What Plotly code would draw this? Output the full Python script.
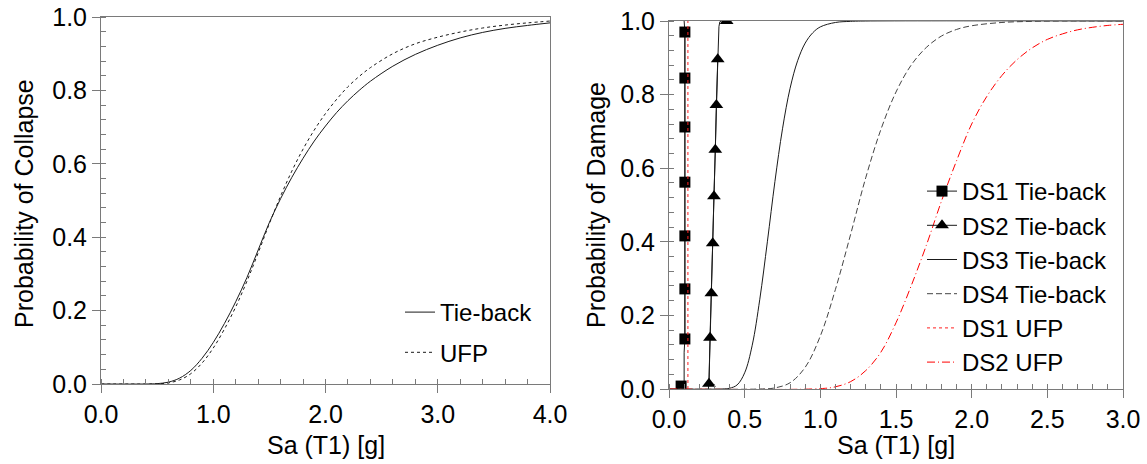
import plotly.graph_objects as go

# ---------------- data ----------------
# Left panel: collapse fragility
sa_col = [0.0, 0.4, 0.5, 0.6, 0.7, 0.8, 0.9, 1.0, 1.1, 1.2, 1.3, 1.4, 1.5, 1.6, 1.7,
          1.8, 1.9, 2.0, 2.1, 2.2, 2.3, 2.4, 2.6, 2.8, 3.0, 3.2, 3.4, 3.6, 3.8, 4.0]
p_col_tieback = [0.0, 0.0, 0.001, 0.005, 0.016, 0.037, 0.07, 0.113, 0.165, 0.224, 0.29, 0.365,
                 0.44, 0.505, 0.563, 0.615, 0.662, 0.703, 0.74, 0.772, 0.80, 0.825, 0.866,
                 0.898, 0.923, 0.943, 0.958, 0.969, 0.977, 0.984]
p_col_ufp = [0.0, 0.0, 0.0005, 0.003, 0.011, 0.028, 0.057, 0.098, 0.15, 0.21, 0.28, 0.357,
             0.437, 0.512, 0.58, 0.64, 0.692, 0.737, 0.776, 0.81, 0.838, 0.862, 0.90,
             0.927, 0.945, 0.959, 0.97, 0.978, 0.984, 0.989]

# Right panel: damage-state fragility
# DS1 Tie-back: curve and marker points
ds1_tb_line_x = [0.1, 0.1, 0.105, 0.105, 0.1]
ds1_tb_line_y = [0.0, 0.10, 0.136, 0.970, 1.0]
ds1_tb_mark_x = [0.08, None, 0.105, 0.105, 0.105, 0.105, 0.105, 0.105, 0.105]
ds1_tb_mark_y = [0.008, None, 0.136, 0.272, 0.416, 0.562, 0.712, 0.845, 0.970]

# DS2 Tie-back: curve and marker points
ds2_tb_line_x = [0.26, 0.264, 0.271, 0.28, 0.289, 0.297, 0.306, 0.313, 0.322, 0.326, 0.33,
                 0.336, 0.345, 0.381]
ds2_tb_line_y = [0.0, 0.014, 0.139, 0.26, 0.396, 0.524, 0.65, 0.772, 0.896, 0.95, 0.985,
                 0.998, 1.0, 1.0]
ds2_tb_mark_x = [0.264, 0.271, 0.28, 0.289, 0.297, 0.306, 0.313, 0.322, None, 0.381]
ds2_tb_mark_y = [0.014, 0.139, 0.26, 0.396, 0.524, 0.65, 0.772, 0.896, None, 1.0]

ds3_tb_x = [0.0, 0.35, 0.40, 0.45, 0.50, 0.55, 0.60, 0.65, 0.70, 0.75, 0.80, 0.85, 0.90,
            0.95, 1.00, 1.10, 1.20, 1.30, 3.0]
ds3_tb_y = [0.0, 0.0, 0.002, 0.011, 0.044, 0.119, 0.244, 0.40, 0.564, 0.707, 0.817, 0.892,
            0.94, 0.968, 0.984, 0.996, 0.999, 1.0, 1.0]

ds4_tb_x = [0.0, 0.60, 0.70, 0.80, 0.90, 1.00, 1.10, 1.20, 1.30, 1.40, 1.50, 1.60, 1.70,
            1.80, 1.90, 2.00, 2.20, 2.40, 2.60, 3.0]
ds4_tb_y = [0.0, 0.0, 0.003, 0.017, 0.059, 0.144, 0.271, 0.42, 0.574, 0.705, 0.807, 0.88,
            0.928, 0.959, 0.977, 0.987, 0.996, 0.999, 1.0, 1.0]

ds1_ufp_x = [0.125, 0.125]
ds1_ufp_y = [0.0, 1.0]

ds2_ufp_x = [0.0, 1.0, 1.1, 1.2, 1.3, 1.4, 1.5, 1.6, 1.7, 1.8, 1.9, 2.0, 2.1, 2.2, 2.3,
             2.4, 2.5, 2.6, 2.7, 2.8, 2.9, 3.0]
ds2_ufp_y = [0.0, 0.001, 0.006, 0.02, 0.05, 0.10, 0.18, 0.28, 0.39, 0.51, 0.62, 0.72, 0.795,
             0.852, 0.895, 0.927, 0.95, 0.965, 0.976, 0.983, 0.988, 0.991]

# ---------------- figure ----------------
W, H = 1147, 464
FONT = "Liberation Sans, Arial, sans-serif"
FS = 25
LFS = 24
AXC = "#7a7a7a"
BLK = "#1a1a1a"

fig = go.Figure()

fig.add_trace(go.Scatter(x=sa_col, y=p_col_tieback, mode="lines", name="Tie-back",
                         line=dict(color=BLK, width=1, shape="spline"),
                         xaxis="x", yaxis="y", legend="legend", legendgroup="a"))
fig.add_trace(go.Scatter(x=sa_col, y=p_col_ufp, mode="lines", name="UFP",
                         line=dict(color=BLK, width=1, dash="dot", shape="spline"),
                         xaxis="x", yaxis="y", legend="legend", legendgroup="b"))

# DS1 Tie-back
fig.add_trace(go.Scatter(x=ds1_tb_line_x, y=ds1_tb_line_y, mode="lines", showlegend=False,
                         line=dict(color=BLK, width=1), xaxis="x2", yaxis="y2"))
fig.add_trace(go.Scatter(x=ds1_tb_mark_x, y=ds1_tb_mark_y, mode="lines+markers",
                         name="DS1 Tie-back", connectgaps=False,
                         line=dict(color=BLK, width=1),
                         marker=dict(symbol="square", color="black", size=11, line=dict(width=0)),
                         xaxis="x2", yaxis="y2", legend="legend2"))
# DS2 Tie-back
fig.add_trace(go.Scatter(x=ds2_tb_line_x, y=ds2_tb_line_y, mode="lines", showlegend=False,
                         line=dict(color=BLK, width=1), xaxis="x2", yaxis="y2"))
fig.add_trace(go.Scatter(x=ds2_tb_mark_x, y=ds2_tb_mark_y, mode="lines+markers",
                         name="DS2 Tie-back", connectgaps=False,
                         line=dict(color=BLK, width=1),
                         marker=dict(symbol="triangle-up", color="black", size=12, line=dict(width=0)),
                         xaxis="x2", yaxis="y2", legend="legend2"))

fig.add_trace(go.Scatter(x=ds3_tb_x, y=ds3_tb_y, mode="lines", name="DS3 Tie-back",
                         line=dict(color=BLK, width=1, shape="spline"),
                         xaxis="x2", yaxis="y2", legend="legend2"))
fig.add_trace(go.Scatter(x=ds4_tb_x, y=ds4_tb_y, mode="lines", name="DS4 Tie-back",
                         line=dict(color="#444444", width=1, dash="6px,3px", shape="spline"),
                         xaxis="x2", yaxis="y2", legend="legend2"))
fig.add_trace(go.Scatter(x=ds1_ufp_x, y=ds1_ufp_y, mode="lines", name="DS1 UFP",
                         line=dict(color="#ff2020", width=1, dash="dot"),
                         xaxis="x2", yaxis="y2", legend="legend2"))
fig.add_trace(go.Scatter(x=ds2_ufp_x, y=ds2_ufp_y, mode="lines", name="DS2 UFP",
                         line=dict(color="#ff0000", width=1, dash="8px,3px,1px,3px", shape="spline"),
                         xaxis="x2", yaxis="y2", legend="legend2"))

def px_x(p):
    return p / W

def px_y(p):
    return (H - p) / H

axis_common = dict(showline=True, mirror=True, linecolor=AXC, linewidth=1,
                   showgrid=False, zeroline=False, ticks="outside", ticklen=8,
                   tickcolor=AXC, tickwidth=1, tickformat=".1f", automargin=False,
                   tickfont=dict(family=FONT, size=FS, color="black"))

title_common = dict(xref="paper", yref="paper", showarrow=False,
                    xanchor="center", yanchor="middle", font=dict(family=FONT, size=FS))

fig.update_layout(
    template="none",
    width=W, height=H,
    margin=dict(l=0, r=0, t=0, b=0, pad=0, autoexpand=False),
    paper_bgcolor="white", plot_bgcolor="white",
    font=dict(family=FONT, size=FS, color="black"),
    xaxis=dict(domain=[px_x(101), px_x(550)], range=[0, 4], dtick=1, anchor="y",
               minor=dict(dtick=0.2, ticks="inside", ticklen=5, tickcolor=AXC), **axis_common),
    yaxis=dict(domain=[px_y(384), px_y(17)], range=[0, 1], dtick=0.2, anchor="x",
               minor=dict(dtick=0.04, ticks="inside", ticklen=5, tickcolor=AXC), **axis_common),
    xaxis2=dict(domain=[px_x(669), px_x(1123)], range=[0, 3], dtick=0.5, anchor="y2",
                minor=dict(dtick=0.1, ticks="inside", ticklen=5, tickcolor=AXC), **axis_common),
    yaxis2=dict(domain=[px_y(389), px_y(21)], range=[0, 1], dtick=0.2, anchor="x2",
                minor=dict(dtick=0.04, ticks="inside", ticklen=5, tickcolor=AXC), **axis_common),
    legend=dict(x=px_x(400), y=px_y(290), xanchor="left", yanchor="top",
                bgcolor="rgba(0,0,0,0)", borderwidth=0, tracegroupgap=6,
                traceorder="grouped", font=dict(family=FONT, size=LFS)),
    legend2=dict(x=px_x(922), y=px_y(169), xanchor="left", yanchor="top",
                 bgcolor="rgba(0,0,0,0)", borderwidth=0,
                 font=dict(family=FONT, size=LFS)),
    annotations=[
        dict(text="Probability of Collapse", x=px_x(24), y=px_y(204), textangle=-90, **title_common),
        dict(text="Probability of Damage", x=px_x(596), y=px_y(205), textangle=-90, **title_common),
        dict(text="Sa (T1) [g]", x=px_x(325.5), y=px_y(445), **title_common),
        dict(text="Sa (T1) [g]", x=px_x(896), y=px_y(445), **title_common),
    ],
)

fig.write_html("out.html", config={"displayModeBar": False, "staticPlot": True},
               post_script="document.body.style.margin='0px';document.body.style.overflow='hidden';")
